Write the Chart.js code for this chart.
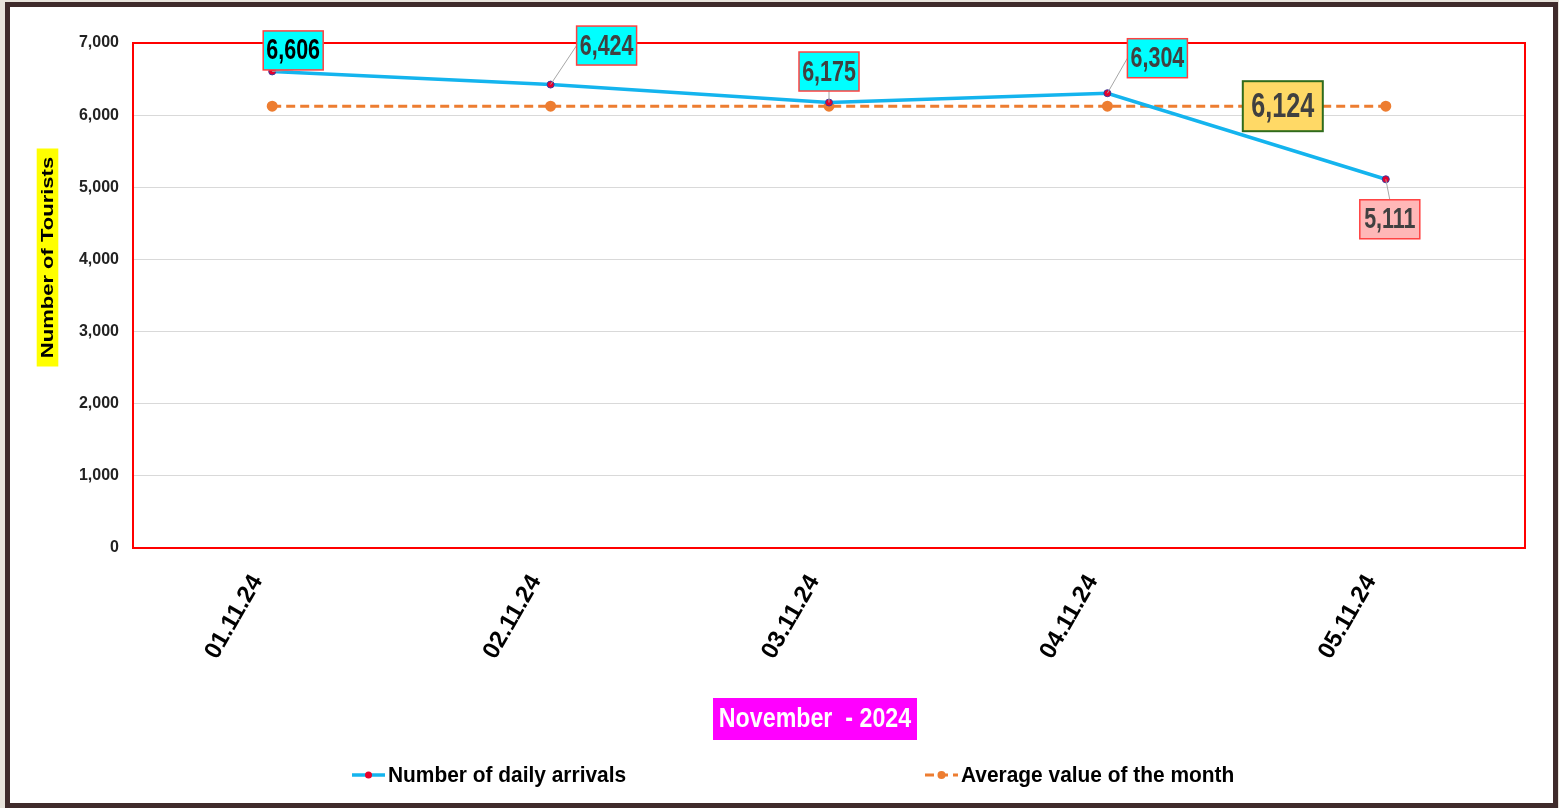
<!DOCTYPE html>
<html>
<head>
<meta charset="utf-8">
<title>Number of daily arrivals - November 2024</title>
<script src="https://cdn.jsdelivr.net/npm/chart.js"></script>
<style>
  html, body { margin: 0; padding: 0; background: #e8e4dc; }
  #frame {
    position: absolute; left: 5px; top: 2px;
    width: 1553px; height: 806px;
    box-sizing: border-box;
    border: 5px solid #3f2b2b;
    background: #fff;
  }
  #wrap { position: absolute; left: 0; top: 0; width: 1543px; height: 796px; }
</style>
</head>
<body>
<div id="frame"><div id="wrap"><canvas id="chart"></canvas></div></div>
<script>
    // data
    const dates = ["01.11.24", "02.11.24", "03.11.24", "04.11.24", "05.11.24"];
    const dailyArrivals = [6606, 6424, 6175, 6304, 5111];
    const monthAverage = [6124, 6124, 6124, 6124, 6124];
    const yMin = 0, yMax = 7000, yStep = 1000;

    const SANS = '"Liberation Sans", Arial, sans-serif';
    const fmt = v => Number(v).toLocaleString("en-US");

    // label boxes: offset of box centre from its point, fill, text colour
    const arrivalLabels = [
        { dx: 21, dy: -21, fill: "#00ffff", color: "#000" },
        { dx: 56, dy: -39, fill: "#00ffff", color: "#404040" },
        { dx: 0, dy: -31, fill: "#00ffff", color: "#404040" },
        { dx: 50, dy: -35, fill: "#00ffff", color: "#404040" },
        { dx: 4, dy: 40, fill: "#ffb7b7", color: "#404040" }
    ];

    // text squeezed sideways, like the narrow font of the original
    function narrowText(ctx, text, x, y, font, sx, align) {
        ctx.save();
        ctx.font = font;
        ctx.translate(x, y);
        ctx.scale(sx, 1);
        ctx.textAlign = align || "center";
        ctx.textBaseline = "middle";
        ctx.fillText(text, 0, 0);
        ctx.restore();
    }

    function labelBox(ctx, x, y, text, o) {
        const w = o.w, h = o.h;
        ctx.fillStyle = o.fill;
        ctx.fillRect(x - w / 2, y - h / 2, w, h);
        ctx.lineWidth = o.lw;
        ctx.strokeStyle = o.stroke;
        ctx.strokeRect(x - w / 2, y - h / 2, w, h);
        ctx.fillStyle = o.color;
        narrowText(ctx, text, x, y + 1, "bold " + o.size + "px " + SANS, o.sx);
    }

    const decorations = {
        id: "decorations",
        beforeDatasetsDraw(chart) {
            const { ctx, chartArea: a } = chart;
            ctx.save();
            ctx.strokeStyle = "#ff0000";
            ctx.lineWidth = 2;
            ctx.strokeRect(a.left, a.top, a.right - a.left, a.bottom - a.top);
            ctx.restore();
        },
        afterDatasetsDraw(chart) {
            const ctx = chart.ctx;
            ctx.save();
            const pts = chart.getDatasetMeta(0).data;
            pts.forEach((p, i) => {
                const L = arrivalLabels[i];
                const cx = p.x + L.dx, cy = p.y + L.dy;
                const w = 60, h = 39;
                // leader line
                let tx, ty;
                if (Math.abs(L.dx) > w / 2) {
                    tx = L.dx > 0 ? cx - w / 2 : cx + w / 2; ty = cy;
                } else {
                    tx = cx; ty = L.dy < 0 ? cy + h / 2 : cy - h / 2;
                }
                if (Math.hypot(tx - p.x, ty - p.y) > 6) {
                    ctx.strokeStyle = "#a6a6a6";
                    ctx.lineWidth = 1;
                    ctx.beginPath();
                    ctx.moveTo(p.x, p.y);
                    ctx.lineTo(tx, ty);
                    ctx.stroke();
                }
                labelBox(ctx, cx, cy, fmt(dailyArrivals[i]), {
                    size: 29, sx: 0.74, w: w, h: h, fill: L.fill, stroke: "#ff4040", lw: 1.5, color: L.color
                });
            });
            // average label, left of the last average point
            const avgPts = chart.getDatasetMeta(1).data;
            const last = avgPts[avgPts.length - 1];
            labelBox(ctx, last.x - 103, last.y, fmt(monthAverage[monthAverage.length - 1]), {
                size: 35, sx: 0.72, w: 80, h: 50, fill: "#ffd966", stroke: "#2f6b1c", lw: 2, color: "#404040"
            });
            ctx.restore();
        },
        afterDraw(chart) {
            const ctx = chart.ctx;
            ctx.save();
            // y axis title on yellow
            ctx.translate(37.5, 250.5);
            ctx.rotate(-Math.PI / 2);
            ctx.scale(1, 0.72);
            ctx.fillStyle = "#ffff00";
            ctx.fillRect(-109, -15, 218, 30);
            ctx.fillStyle = "#000";
            ctx.font = "bold 22px " + SANS;
            ctx.textAlign = "center";
            ctx.textBaseline = "middle";
            ctx.fillText("Number of Tourists", 0, 1);
            ctx.restore();

            // x axis title on magenta
            ctx.save();
            ctx.fillStyle = "#ff00ff";
            ctx.fillRect(805 - 102, 712 - 21, 204, 42);
            ctx.fillStyle = "#fff";
            narrowText(ctx, "November  - 2024", 805, 713, "bold 27px " + SANS, 0.86);
            ctx.restore();

            // legend
            const items = chart.data.datasets.map((ds, i) => ({ ds, x: i === 0 ? 342 : 915 }));
            ctx.save();
            items.forEach(({ ds, x }) => {
                const y = 768;
                ctx.strokeStyle = ds.borderColor;
                ctx.lineWidth = ds.borderWidth;
                ctx.setLineDash(ds.borderDash || []);
                ctx.beginPath();
                ctx.moveTo(x, y);
                ctx.lineTo(x + 33, y);
                ctx.stroke();
                ctx.setLineDash([]);
                ctx.beginPath();
                ctx.arc(x + 16.5, y, ds.pointRadius, 0, Math.PI * 2);
                ctx.fillStyle = ds.pointBackgroundColor;
                ctx.fill();
                ctx.fillStyle = "#000";
                narrowText(ctx, ds.label, x + 36, y + 1, "bold 22px " + SANS, 0.95, "left");
            });
            ctx.restore();
        }
    };

    new Chart(document.getElementById("chart"), {
        type: "line",
        data: {
            labels: dates,
            datasets: [{
                label: "Number of daily arrivals",
                data: dailyArrivals,
                borderColor: "#14b4ee",
                borderWidth: 3.5,
                pointRadius: 3.5,
                pointBackgroundColor: "#e8002a",
                pointBorderColor: "#3a3aa0",
                pointBorderWidth: 1,
                tension: 0
            }, {
                label: "Average value of the month",
                data: monthAverage,
                borderColor: "#ed7d31",
                borderWidth: 3,
                borderDash: [9, 5],
                pointRadius: 4,
                pointBackgroundColor: "#ed7d31",
                pointBorderColor: "#ed7d31",
                tension: 0
            }]
        },
        options: {
            responsive: true,
            maintainAspectRatio: false,
            animation: false,
            layout: { padding: { top: 36, right: 28, left: 0, bottom: 0 } },
            plugins: {
                legend: { display: false },
                tooltip: { enabled: false }
            },
            scales: {
                x: {
                    offset: true,
                    grid: { display: false },
                    border: { display: false },
                    ticks: {
                        color: "#000",
                        font: { family: SANS, weight: "bold", size: 24 },
                        minRotation: 60,
                        maxRotation: 60,
                        labelOffset: -15,
                        padding: 14
                    },
                    afterFit(scale) { scale.height = 255; }
                },
                y: {
                    min: yMin,
                    max: yMax,
                    grid: { color: "#d9d9d9", lineWidth: 1, drawTicks: false },
                    border: { display: false },
                    ticks: {
                        stepSize: yStep,
                        padding: 14,
                        color: "#222",
                        font: { family: SANS, weight: "bold", size: 16 },
                        callback: v => fmt(v)
                    },
                    afterFit(scale) { scale.width = 123; }
                }
            }
        },
        plugins: [decorations]
    });
</script>
</body>
</html>
